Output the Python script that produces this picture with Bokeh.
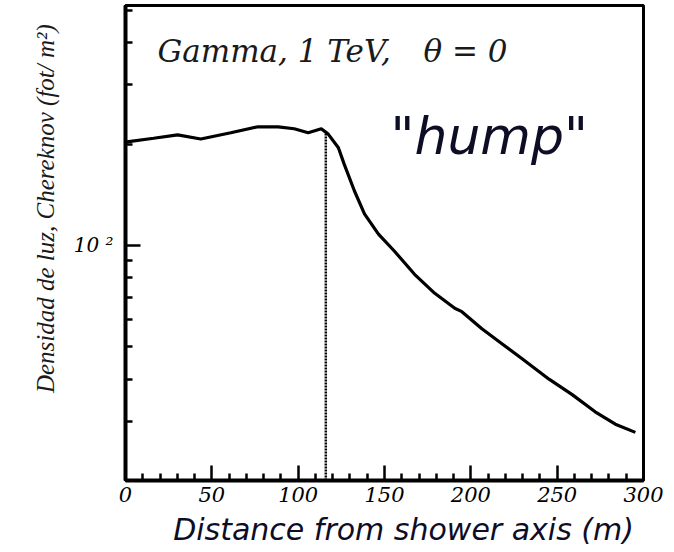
import math
from bokeh.plotting import figure
from bokeh.models import Range1d, FixedTicker, Label
from bokeh.embed import file_html
from bokeh.resources import INLINE

# Data
distance_m = [0.8, 16.3, 30.2, 43.6, 61.0, 76.7, 88.4, 97.7, 105.8, 113.4, 117.4,
              123.3, 126.7, 132.6, 138.4, 146.5, 155.8, 167.4, 179.1, 190.7, 194.8,
              206.4, 218.0, 229.7, 245.3, 258.7, 272.0, 283.7, 295.3]
density = [203, 208, 213, 207, 216, 225, 225, 222, 216, 222, 214,
           195, 174, 145, 124, 108, 96, 82, 72, 65, 63.5,
           56.5, 51, 46, 40, 36, 32, 29.4, 27.8]
hump_x = 116
hump_y = 214

x_major = [0, 50, 100, 150, 200, 250, 300]
x_minor = [v for v in range(10, 300, 10) if v % 50 != 0]
y_major = [100]
y_minor = [20, 30, 40, 50, 60, 70, 80, 90, 200, 300, 400, 500]

NB = "\u00a0"

p = figure(frame_width=518, frame_height=475, y_axis_type="log",
           x_range=Range1d(0, 300), y_range=Range1d(20, 516),
           output_backend="svg", toolbar_location=None,
           min_border_left=125, min_border_right=31, min_border_top=5, min_border_bottom=66)
p.background_fill_color = "white"
p.border_fill_color = "white"
p.xgrid.visible = False
p.ygrid.visible = False
p.outline_line_color = "black"
p.outline_line_width = 3

p.xaxis.ticker = FixedTicker(ticks=x_major, minor_ticks=x_minor)
p.yaxis.ticker = FixedTicker(ticks=y_major, minor_ticks=y_minor)
p.yaxis.major_label_overrides = {100: "10 ²"}

for ax in (p.xaxis[0], p.yaxis[0]):
    ax.axis_line_width = 4
    ax.axis_line_color = "black"
    ax.major_tick_in = 15
    ax.major_tick_out = 0
    ax.minor_tick_in = 7
    ax.minor_tick_out = 0
    ax.major_tick_line_width = 2.5
    ax.minor_tick_line_width = 2.5
    ax.major_tick_line_color = "black"
    ax.minor_tick_line_color = "black"
    ax.major_label_text_font = "DejaVu Serif"
    ax.major_label_text_font_style = "italic"
    ax.major_label_text_color = "#000000"

p.xaxis.major_label_text_font_size = "21px"
p.xaxis.major_label_standoff = 6
p.yaxis.major_label_text_font_size = "20px"
p.yaxis.major_label_standoff = 12

p.xaxis.axis_label = NB * 4 + "Distance from shower axis (m)"
p.xaxis.axis_label_text_font = "DejaVu Sans"
p.xaxis.axis_label_text_font_style = "italic"
p.xaxis.axis_label_text_font_size = "30px"
p.xaxis.axis_label_text_color = "#0d0d26"
p.xaxis.axis_label_standoff = 7

p.yaxis.axis_label = NB * 11 + "Densidad de luz, Chereknov (fot/ m²)"
p.yaxis.axis_label_text_font = "Liberation Serif"
p.yaxis.axis_label_text_font_style = "italic"
p.yaxis.axis_label_text_font_size = "25px"
p.yaxis.axis_label_text_color = "#1a1a1a"
p.yaxis.axis_label_standoff = 12

p.line(distance_m, density, line_color="black", line_width=3.2)
p.segment(x0=[hump_x], y0=[20], x1=[hump_x], y1=[hump_y], line_color="black",
          line_width=2.5, line_dash="2 1")

p.add_layout(Label(x=157 - 125, y=480 - 50, x_units="screen", y_units="screen",
                   text="Gamma, 1 TeV,", text_font="DejaVu Serif", text_font_style="italic",
                   text_font_size="31px", text_color="#1a1a1a",
                   text_align="left", text_baseline="middle"))
p.add_layout(Label(x=423 - 125, y=480 - 50, x_units="screen", y_units="screen",
                   text="θ = 0", text_font="DejaVu Serif", text_font_style="italic",
                   text_font_size="31px", text_color="#1a1a1a",
                   text_align="left", text_baseline="middle"))
p.add_layout(Label(x=390 - 125, y=480 - 135, x_units="screen", y_units="screen",
                   text='"hump"', text_font="DejaVu Sans", text_font_style="italic",
                   text_font_size="52px", text_color="#0d0d26",
                   text_align="left", text_baseline="middle"))

open("out.html", "w").write(file_html(p, INLINE))
